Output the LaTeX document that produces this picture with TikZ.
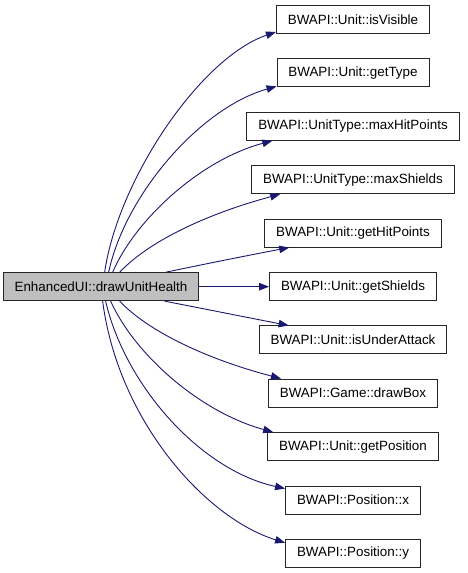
\documentclass[tikz,border=0pt]{standalone}
\usepackage{fontspec}
\setmainfont{Liberation Sans}
\usetikzlibrary{arrows.meta}
\definecolor{edgeblue}{HTML}{191970}
\begin{document}
\begin{tikzpicture}[x=1pt,y=-1pt,
  box/.style={draw=black!85, line width=0.9pt, fill=white, inner xsep=11.5pt, inner ysep=0pt,
    minimum height=28pt, font=\fontsize{13.4}{16}\selectfont, anchor=center},
  srcbox/.style={box, fill=black!25},
  edge/.style={draw=edgeblue, line width=0.9pt, -{Triangle[length=10pt,width=7.5pt]}}]
\useasboundingbox (0,0) rectangle (467,573);
\node[srcbox] (src) at (101,286.7) {EnhancedUI::drawUnitHealth};
\node[box] (t1) at (353,19.5) {BWAPI::Unit::isVisible};
\node[box] (t2) at (353,72.9) {BWAPI::Unit::getType};
\node[box] (t3) at (353,126.3) {BWAPI::UnitType::maxHitPoints};
\node[box] (t4) at (353,179.7) {BWAPI::UnitType::maxShields};
\node[box] (t5) at (353,233.1) {BWAPI::Unit::getHitPoints};
\node[box] (t6) at (353,286.7) {BWAPI::Unit::getShields};
\node[box] (t7) at (353,339.9) {BWAPI::Unit::isUnderAttack};
\node[box] (t8) at (353,393.0) {BWAPI::Game::drawBox};
\node[box] (t9) at (353,446.6) {BWAPI::Unit::getPosition};
\node[box] (t10) at (353,500.0) {BWAPI::Position::x};
\node[box] (t11) at (353,553.2) {BWAPI::Position::y};
% upward edges
\draw[edge] ([xshift=102pt]src.north west) .. controls (118,180) and (200,58) .. ([yshift=2pt]t1.south west);
\draw[edge] ([xshift=106pt]src.north west) .. controls (125,195) and (200,108) .. ([yshift=1pt]t2.south west);
\draw[edge] ([xshift=110pt]src.north west) .. controls (135,220) and (200,160) .. ([xshift=26pt]t3.south west);
\draw[edge] ([xshift=117pt]src.north west) .. controls (150,240) and (210,213) .. ([xshift=29pt]t4.south west);
\draw[edge] ([xshift=163pt]src.north west) .. controls (200,265) and (250,255) .. ([xshift=25pt]t5.south west);
\draw[edge] (src.east) -- (t6.west);
% downward edges
\draw[edge] ([xshift=162pt]src.south west) .. controls (200,308) and (250,318) .. ([xshift=30pt]t7.north west);
\draw[edge] ([xshift=117pt]src.south west) .. controls (150,333) and (210,360) .. ([xshift=13pt]t8.north west);
\draw[edge] ([xshift=108pt]src.south west) .. controls (135,355) and (200,412) .. ([xshift=6pt]t9.north west);
\draw[edge] ([xshift=103pt]src.south west) .. controls (125,385) and (200,470) .. ([yshift=-3pt]t10.north west);
\draw[edge] ([xshift=100pt]src.south west) .. controls (118,420) and (205,518) .. ([yshift=-4pt]t11.north west);
\end{tikzpicture}
\end{document}
